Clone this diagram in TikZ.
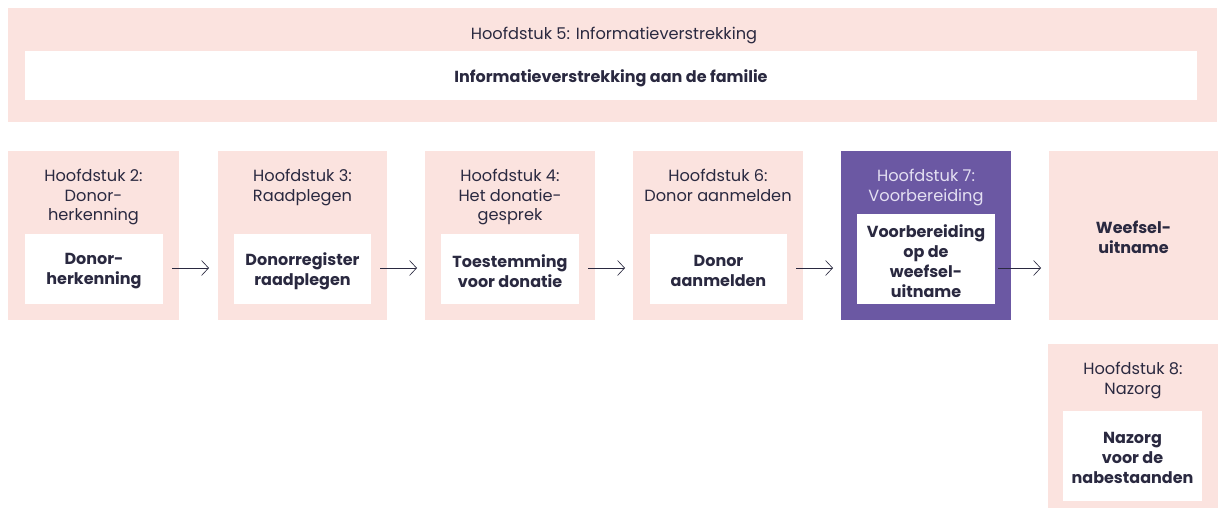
\documentclass[tikz,border=0pt]{standalone}
\usepackage{fontspec}
\setmainfont{Poppins}
\usetikzlibrary{arrows.meta}
\definecolor{pinkbg}{HTML}{FBE3DF}
\definecolor{purp}{HTML}{6B58A3}
\definecolor{ink}{HTML}{2A2940}
\definecolor{lighttxt}{HTML}{E4E0F2}
\begin{document}
\begin{tikzpicture}[x=1pt,y=-1pt,
  box/.style={fill=pinkbg, draw=none, inner sep=0pt, outer sep=0pt, anchor=north west},
  pbox/.style={fill=purp, draw=none, inner sep=0pt, outer sep=0pt, anchor=north west},
  wbox/.style={fill=white, draw=none, inner sep=0pt, outer sep=0pt, anchor=north west},
  ttl/.style={text=ink, align=center, inner sep=0pt, anchor=north, font=\fontsize{16.2}{19.5}\selectfont},
  lbl/.style={text=ink, align=center, inner sep=0pt, yshift=-2pt, font=\fontsize{16}{20}\selectfont\bfseries},
  arr/.style={draw=ink, line width=0.65pt, -{Straight Barb[length=7pt,width=15pt,line width=0.65pt]}}
]
\useasboundingbox (0,0) rectangle (1218,508);
\fill[white] (0,0) rectangle (1218,508);
% top band
\node[box, minimum width=1209pt, minimum height=114pt] (top) at (8,8) {};
\node[wbox, minimum width=1172pt, minimum height=49pt] (topw) at (25,51) {};
\node[ttl] (topt) at (614,27) {Hoofdstuk 5: Informatieverstrekking};
\node[lbl] (topl) at (611,76) {Informatieverstrekking aan de familie};
% row boxes
\node[box, minimum width=171pt, minimum height=169pt] (b1) at (8,151) {};
\node[box, minimum width=169pt, minimum height=169pt] (b2) at (218,151) {};
\node[box, minimum width=170pt, minimum height=169pt] (b3) at (425,151) {};
\node[box, minimum width=170pt, minimum height=169pt] (b4) at (633,151) {};
\node[pbox, minimum width=170pt, minimum height=169pt] (b5) at (841,151) {};
\node[box, minimum width=169pt, minimum height=169pt] (b6) at (1049,151) {};
\node[box, minimum width=170pt, minimum height=164pt] (b7) at (1048,344) {};
% inner white boxes
\node[wbox, minimum width=138pt, minimum height=70pt] (w1) at (25,234) {};
\node[wbox, minimum width=137pt, minimum height=70pt] (w2) at (234,234) {};
\node[wbox, minimum width=138pt, minimum height=70pt] (w3) at (441,234) {};
\node[wbox, minimum width=137pt, minimum height=70pt] (w4) at (650,234) {};
\node[wbox, minimum width=138pt, minimum height=90pt] (w5) at (857,214) {};
\node[wbox, minimum width=139pt, minimum height=90pt] (w7) at (1063,411) {};
% titles
\node[ttl] (t1) at (b1.north |- 0,169) {Hoofdstuk 2:\\Donor-\\herkenning};
\node[ttl] (t2) at (b2.north |- 0,169) {Hoofdstuk 3:\\Raadplegen};
\node[ttl] (t3) at (b3.north |- 0,169) {Hoofdstuk 4:\\Het donatie-\\gesprek};
\node[ttl] (t4) at (b4.north |- 0,169) {Hoofdstuk 6:\\Donor aanmelden};
\node[ttl, text=lighttxt] (t5) at (b5.north |- 0,169) {Hoofdstuk 7:\\Voorbereiding};
\node[ttl] (t7) at (b7.north |- 0,362) {Hoofdstuk 8:\\Nazorg};
% labels
\node[lbl] (l1) at (w1.center) {Donor-\\herkenning};
\node[lbl] (l2) at (w2.center) {Donorregister\\raadplegen};
\node[lbl] (l3) at (w3.center) {Toestemming\\voor donatie};
\node[lbl] (l4) at (w4.center) {Donor\\aanmelden};
\node[lbl] (l5) at (w5.center) {Voorbereiding\\op de\\weefsel-\\uitname};
\node[lbl] (l6) at (b6.center) {Weefsel-\\uitname};
\node[lbl] (l7) at (w7.center) {Nazorg\\voor de\\nabestaanden};
% arrows
\coordinate (a1s) at (172,268); \coordinate (a1e) at (209,268);
\coordinate (a2s) at (380,268); \coordinate (a2e) at (417,268);
\coordinate (a3s) at (588,268); \coordinate (a3e) at (625,268);
\coordinate (a4s) at (796,268); \coordinate (a4e) at (833,268);
\coordinate (a5s) at (998,268); \coordinate (a5e) at (1041,268);
\draw[arr] (a1s) -- (a1e);
\draw[arr] (a2s) -- (a2e);
\draw[arr] (a3s) -- (a3e);
\draw[arr] (a4s) -- (a4e);
\draw[arr] (a5s) -- (a5e);
\end{tikzpicture}
\end{document}
